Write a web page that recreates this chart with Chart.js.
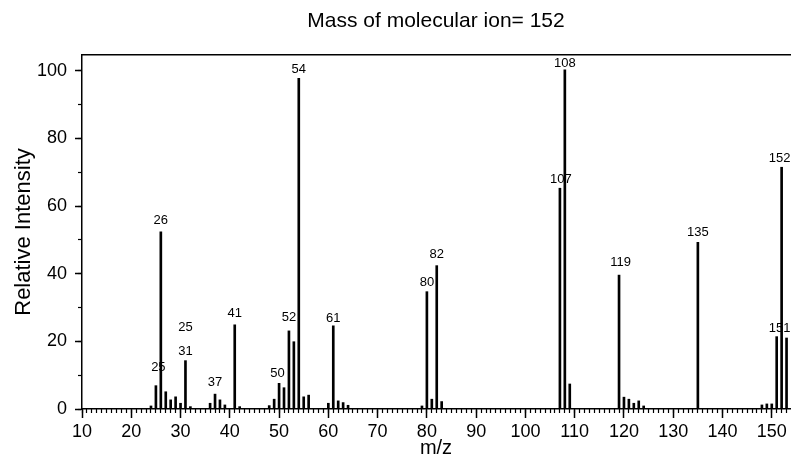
<!DOCTYPE html>
<html>
<head>
<meta charset="utf-8">
<script src="https://cdn.jsdelivr.net/npm/chart.js@4.4.1/dist/chart.umd.min.js"></script>
<style>
  html, body { margin: 0; padding: 0; background: #fff; }
</style>
</head>
<body>
<canvas id="grafico" width="791" height="464"></canvas>
<script>
const mz = [24, 25, 26, 27, 28, 29, 30, 31, 32,
    36, 37, 38, 39, 41, 42,
    48, 49, 50, 51, 52, 53, 54, 55, 56,
    60, 61, 62, 63, 64,
    79, 80, 81, 82, 83,
    107, 108, 109,
    119, 120, 121, 122, 123, 124,
    135,
    148, 149, 150, 151, 152, 153];
const intensidade = [0.9, 6.9, 52.4, 5.1, 2.7, 3.6, 1.7, 14.3, 0.7,
    1.7, 4.4, 2.7, 1.2, 24.9, 0.7,
    1.0, 2.9, 7.6, 6.3, 23.1, 19.9, 97.8, 3.6, 4.1,
    1.7, 24.6, 2.4, 1.9, 1.1,
    0.9, 34.7, 2.9, 42.4, 2.2,
    65.3, 100.3, 7.4,
    39.6, 3.5, 2.9, 1.7, 2.4, 0.9,
    49.3,
    1.2, 1.5, 1.5, 21.4, 71.5, 21.0];

// rótulos escritos sobre os picos (posição em m/z e intensidade)
const rotuloTexto = ['26', '25', '25', '31', '37', '41', '50', '52', '54',
    '61', '80', '82', '107', '108', '119', '135', '152', '151'];
const rotuloX = [26, 25.5, 31, 31, 37, 41, 49.7, 52, 54,
    61, 80, 82, 107.2, 108, 119.3, 135, 151.6, 151.6];
const rotuloY = [55.9, 12.4, 24.0, 17.1, 7.9, 28.3, 10.6, 27.1, 100.5,
    26.8, 37.5, 45.6, 67.8, 102.3, 43.3, 52.2, 74.0, 23.7];

// marcas dos eixos
const xMaior = [10, 20, 30, 40, 50, 60, 70, 80, 90, 100, 110, 120, 130, 140, 150];
const yMaior = [0, 20, 40, 60, 80, 100];
const yMenor = [0, 10, 20, 30, 40, 50, 60, 70, 80, 90, 100];
const xMenor = [];
for (let v = 10; v <= 153; v++) xMenor.push(v);

const X_MIN = 10, X_MAX = 153.7;
const Y_MAX = 104.7;
const preto = '#000';
const fonte = '"Liberation Sans", Arial, Helvetica, sans-serif';

const rotulosPlugin = {
    id: 'rotulos',
    afterDatasetsDraw(chart) {
        const { ctx, scales: { x, y } } = chart;
        ctx.save();
        ctx.font = '13px ' + fonte;
        ctx.fillStyle = preto;
        ctx.textAlign = 'center';
        ctx.textBaseline = 'middle';
        rotuloTexto.forEach(function (t, i) {
            ctx.fillText(t, x.getPixelForValue(rotuloX[i]), y.getPixelForValue(rotuloY[i]));
        });
        ctx.restore();
    }
};

function marcas(lista) {
    return function (scale) {
        scale.ticks = lista.map(v => ({ value: v }));
    };
}

const ctx = document.getElementById('grafico').getContext('2d');
new Chart(ctx, {
    type: 'bar',
    data: {
        datasets: [{
            data: mz.map((m, i) => ({ x: m, y: intensidade[i] })),
            backgroundColor: preto,
            borderWidth: 0,
            barThickness: 2
        }]
    },
    options: {
        responsive: false,
        animation: false,
        devicePixelRatio: 1,
        layout: { padding: { left: 0, right: 1, top: 0, bottom: 0 } },
        plugins: {
            legend: { display: false },
            tooltip: { enabled: false },
            title: {
                display: true,
                text: 'Mass of molecular ion= 152',
                fullSize: false,
                color: preto,
                font: { family: fonte, size: 21, weight: 'normal' },
                padding: { top: 9, bottom: 20.8 }
            }
        },
        scales: {
            x: {
                type: 'linear', position: 'bottom', weight: 1,
                min: X_MIN, max: X_MAX, offset: false,
                afterBuildTicks: marcas(xMaior),
                afterFit: s => { s.height = 55; },
                ticks: { color: preto, font: { family: fonte, size: 18 }, padding: 3, maxRotation: 0, autoSkip: false },
                grid: { offset: false, drawOnChartArea: false, tickLength: 9, tickWidth: 1.5, tickColor: preto },
                border: { color: preto, width: 1.5 },
                title: {
                    display: true, text: 'm/z', color: preto,
                    font: { family: fonte, size: 20 }, padding: { top: 0, bottom: 4 }
                }
            },
            xMenor: {
                type: 'linear', position: 'bottom', weight: 0,
                min: X_MIN, max: X_MAX, offset: false,
                afterBuildTicks: marcas(xMenor),
                afterFit: s => { s.height = 0; },
                ticks: { display: false },
                grid: { offset: false, drawOnChartArea: false, tickLength: 4, tickWidth: 1.2, tickColor: preto },
                border: { display: false }
            },
            xTopo: {
                type: 'linear', position: 'top',
                min: X_MIN, max: X_MAX, offset: false,
                afterFit: s => { s.height = 0; },
                ticks: { display: false },
                grid: { display: false },
                border: { color: preto, width: 1.5 }
            },
            y: {
                type: 'linear', position: 'left', weight: 1,
                min: 0, max: Y_MAX,
                afterBuildTicks: marcas(yMaior),
                afterFit: s => { s.width = 82; },
                ticks: { color: preto, font: { family: fonte, size: 18 }, padding: 8 },
                grid: { drawOnChartArea: false, tickLength: 7, tickWidth: 1.5, tickColor: preto },
                border: { color: preto, width: 1.5 },
                title: {
                    display: true, text: 'Relative Intensity', color: preto,
                    font: { family: fonte, size: 22 }, padding: { top: 11, bottom: 0 }
                }
            },
            yMenor: {
                type: 'linear', position: 'left', weight: 0,
                min: 0, max: Y_MAX,
                afterBuildTicks: marcas(yMenor),
                afterFit: s => { s.width = 0; },
                ticks: { display: false },
                grid: { drawOnChartArea: false, tickLength: 4, tickWidth: 1.2, tickColor: preto },
                border: { display: false }
            }
        }
    },
    plugins: [rotulosPlugin]
});
</script>
</body>
</html>
